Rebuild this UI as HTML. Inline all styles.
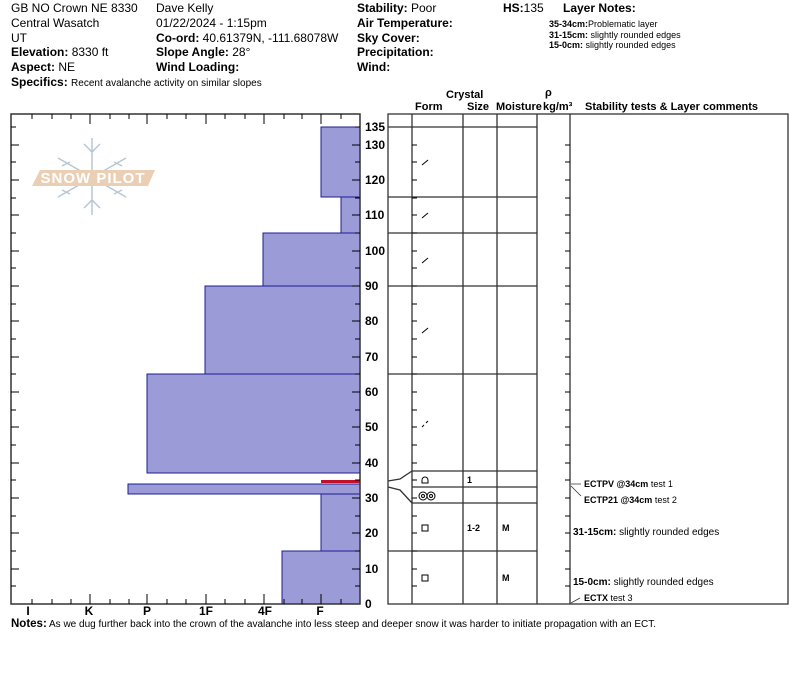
<!DOCTYPE html>
<html><head><meta charset="utf-8"><style>
body{margin:0;background:#fff;width:800px;height:676px;overflow:hidden;font-family:"Liberation Sans",Arial,sans-serif;}
svg{position:absolute;left:0;top:0}
</style></head><body>
<svg width="800" height="676" viewBox="0 0 800 676" font-family="Liberation Sans, Arial, sans-serif" fill="#000">
<g font-size="12">
<text x="11" y="12">GB NO Crown NE 8330</text>
<text x="11" y="27">Central Wasatch</text>
<text x="11" y="42">UT</text>
<text x="11" y="56"><tspan font-weight="bold">Elevation:</tspan> 8330 ft</text>
<text x="11" y="71"><tspan font-weight="bold">Aspect:</tspan> NE</text>
<text x="11" y="86"><tspan font-weight="bold">Specifics:</tspan> <tspan font-size="10">Recent avalanche activity on similar slopes</tspan></text>
<text x="156" y="12">Dave Kelly</text>
<text x="156" y="27">01/22/2024 - 1:15pm</text>
<text x="156" y="42"><tspan font-weight="bold">Co-ord:</tspan> 40.61379N, -111.68078W</text>
<text x="156" y="56"><tspan font-weight="bold">Slope Angle:</tspan> 28°</text>
<text x="156" y="71" font-weight="bold">Wind Loading:</text>
<text x="357" y="12"><tspan font-weight="bold">Stability:</tspan> Poor</text>
<text x="357" y="27" font-weight="bold">Air Temperature:</text>
<text x="357" y="42" font-weight="bold">Sky Cover:</text>
<text x="357" y="56" font-weight="bold">Precipitation:</text>
<text x="357" y="71" font-weight="bold">Wind:</text>
<text x="503" y="12"><tspan font-weight="bold">HS:</tspan>135</text>
<text x="563" y="12" font-weight="bold">Layer Notes:</text>
</g>
<g font-size="9">
<text x="549" y="27"><tspan font-weight="bold">35-34cm:</tspan>Problematic layer</text>
<text x="549" y="38"><tspan font-weight="bold">31-15cm:</tspan> slightly rounded edges</text>
<text x="549" y="48"><tspan font-weight="bold">15-0cm:</tspan> slightly rounded edges</text>
</g>
<g font-size="11" font-weight="bold">
<text x="446" y="98">Crystal</text>
<text x="415" y="110">Form</text>
<text x="467" y="110">Size</text>
<text x="496" y="110">Moisture</text>
<text x="545" y="96">ρ</text>
<text x="543" y="110">kg/m³</text>
<text x="585" y="110">Stability tests &amp; Layer comments</text>
</g>
<g stroke="#b8c6d4" stroke-width="1.5" fill="none">
<line x1="92" y1="138" x2="92" y2="215"/>
<line x1="58" y1="158" x2="126" y2="197"/>
<line x1="58" y1="197" x2="126" y2="158"/>
<path d="M84 144 L92 152 L100 144 M84 208 L92 200 L100 208 M62 166l8-4M62 190l8 4M122 166l-8-4M122 190l-8 4"/>
</g>
<polygon points="40,170 155,170 148,186 32,186" fill="#ebcfb5"/>
<text x="93" y="183" font-size="15" font-weight="bold" fill="#fff" text-anchor="middle" letter-spacing="1">SNOW PILOT</text>
<g fill="#9b9bd8" stroke="#1e1e90" stroke-width="1">
<rect x="321" y="127" width="39" height="70"/>
<rect x="341" y="197" width="19" height="36"/>
<rect x="263" y="233" width="97" height="53"/>
<rect x="205" y="286" width="155" height="88"/>
<rect x="147" y="374" width="213" height="99"/>
<rect x="128" y="484" width="232" height="10"/>
<rect x="321" y="494" width="39" height="57"/>
<rect x="282" y="551" width="78" height="53"/>
</g>
<rect x="321" y="480" width="39" height="3" fill="#c0102a"/>
<rect x="11" y="114" width="349" height="490" fill="none" stroke="#333" stroke-width="1.5"/>
<g stroke="#000" stroke-width="1">
<path d="M32 114v5M52 114v5M71 114v5M90 114v10M110 114v5M129 114v5M147 114v10M167 114v5M186 114v5M206 114v10M225 114v5M245 114v5M264 114v10M284 114v5M302 114v5M321 114v10M341 114v5"/>
<path d="M32 604v-5M52 604v-5M71 604v-5M90 604v-10M110 604v-5M129 604v-5M147 604v-10M167 604v-5M186 604v-5M206 604v-10M225 604v-5M245 604v-5M264 604v-10M284 604v-5M302 604v-5M321 604v-10M341 604v-5"/>
<path d="M11 127h5M11 145h8M11 162h5M11 180h8M11 198h5M11 215h8M11 233h5M11 251h8M11 268h5M11 286h8M11 304h5M11 321h8M11 339h5M11 357h8M11 374h5M11 392h8M11 410h5M11 427h8M11 445h5M11 463h8M11 480h5M11 498h8M11 516h5M11 533h8M11 551h5M11 569h8M11 586h5"/>
<path d="M360 127h-5M360 145h-8M360 162h-5M360 180h-8M360 198h-5M360 215h-8M360 233h-5M360 251h-8M360 268h-5M360 286h-8M360 304h-5M360 321h-8M360 339h-5M360 357h-8M360 374h-5M360 392h-8M360 410h-5M360 427h-8M360 445h-5M360 463h-8M360 480h-5M360 498h-8M360 516h-5M360 533h-8M360 551h-5M360 569h-8M360 586h-5"/>
</g>
<g font-size="12" font-weight="bold" text-anchor="middle">
<text x="28" y="615">I</text><text x="89" y="615">K</text><text x="147" y="615">P</text>
<text x="206" y="615">1F</text><text x="265" y="615">4F</text><text x="320" y="615">F</text>
</g>
<g font-size="12" font-weight="bold">
<text x="365" y="131">135</text><text x="365" y="149">130</text><text x="365" y="184">120</text>
<text x="365" y="219">110</text><text x="365" y="255">100</text><text x="365" y="290">90</text>
<text x="365" y="325">80</text><text x="365" y="361">70</text><text x="365" y="396">60</text>
<text x="365" y="431">50</text><text x="365" y="467">40</text><text x="365" y="502">30</text>
<text x="365" y="537">20</text><text x="365" y="573">10</text><text x="365" y="608">0</text>
</g>
<g stroke="#333" stroke-width="1.3" fill="none">
<rect x="388" y="114" width="400" height="490"/>
<path d="M412 114V604M463 114V604M497 114V604M537 114V604M570 114V604"/>
<path d="M388 127H537M388 197H537M388 233H537M388 286H537M388 374H537M412 471H537M412 487H537M412 503H537M388 551H537"/>
<path d="M388 481L400 479L412 471M388 487L400 490L412 503"/>
</g>
<g stroke="#000" stroke-width="1">
<path d="M412 145h5M412 162h5M412 180h5M412 198h5M412 215h5M412 233h5M412 251h5M412 268h5M412 286h5M412 304h5M412 321h5M412 339h5M412 357h5M412 374h5M412 392h5M412 410h5M412 427h5M412 445h5M412 463h5M412 480h5M412 498h5M412 516h5M412 533h5M412 551h5M412 569h5M412 586h5"/>
<path d="M570 145h-5M570 162h-5M570 180h-5M570 198h-5M570 215h-5M570 233h-5M570 251h-5M570 268h-5M570 286h-5M570 304h-5M570 321h-5M570 339h-5M570 357h-5M570 374h-5M570 392h-5M570 410h-5M570 427h-5M570 445h-5M570 463h-5M570 480h-5M570 498h-5M570 516h-5M570 533h-5M570 551h-5M570 569h-5M570 586h-5"/>
<path d="M422 165l6-5M422 218l6-5M422 263l6-5M422 333l6-5M422 427l2-2M426 423l2-2"/>
</g>
<g fill="none" stroke="#000" stroke-width="1">
<rect x="422" y="525" width="6" height="6"/>
<rect x="422" y="575" width="6" height="6"/>
<path d="M422 483h6v-3a3 3 0 0 0 -6 0z"/>
<circle cx="423" cy="496" r="4"/><circle cx="431" cy="496" r="4"/>
<circle cx="423" cy="496" r="1.5"/><circle cx="431" cy="496" r="1.5"/>
</g>
<g font-size="9" font-weight="bold">
<text x="467" y="483">1</text>
<text x="467" y="531">1-2</text>
<text x="502" y="531">M</text>
<text x="502" y="581">M</text>
</g>
<g stroke="#333" stroke-width="0.8" fill="none">
<path d="M571 484h10M571 486l10 10M571 603l9-5"/>
</g>
<g font-size="9">
<text x="584" y="487"><tspan font-weight="bold">ECTPV @34cm</tspan> test 1</text>
<text x="584" y="503"><tspan font-weight="bold">ECTP21 @34cm</tspan> test 2</text>
<text x="573" y="535" font-size="10"><tspan font-weight="bold">31-15cm:</tspan> slightly rounded edges</text>
<text x="573" y="585" font-size="10"><tspan font-weight="bold">15-0cm:</tspan> slightly rounded edges</text>
<text x="584" y="601"><tspan font-weight="bold">ECTX</tspan> test 3</text>
</g>
<text x="11" y="627" font-size="10"><tspan font-weight="bold" font-size="11.5">Notes:</tspan> As we dug further back into the crown of the avalanche into less steep and deeper snow it was harder to initiate propagation with an ECT.</text>
</svg>
</body></html>
